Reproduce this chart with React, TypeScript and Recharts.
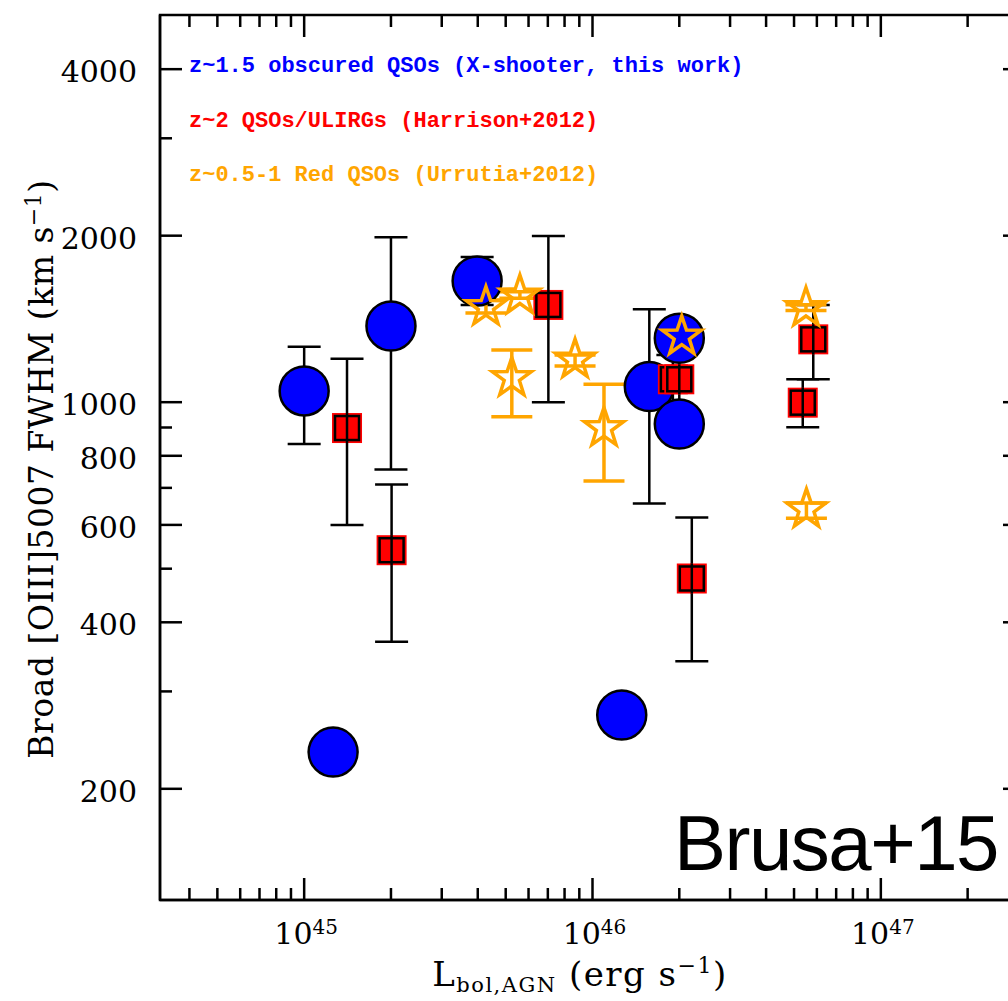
import { ScatterChart, Scatter, XAxis, YAxis, ErrorBar, ReferenceArea } from 'recharts';

// L_bol (erg/s) and broad [OIII] FWHM (km/s)
const xshooterLum = [1.0e45, 1.26e45, 2.0e45, 3.98e45, 1.263e46, 1.574e46, 2.0e46, 2.0e46];
const xshooterFwhm = [1048, 233, 1373, 1656, 272, 1067, 1305, 913];
const xshooterHigh = [1260, null, 1987, 1830, null, 1472, null, null];
const xshooterLow = [840, null, 756, 1499, null, 656, null, null];

const harrisonLum = [1.408e45, 2.01e45, 7.03e45, 1.9e46, 2.0e46, 2.21e46, 5.36e46, 5.83e46];
const harrisonFwhm = [898, 540, 1499, 1100, 1100, 480, 998, 1299];
const harrisonHigh = [1198, 710, 1997, 1217, 1217, 619, 1100, 1499];
const harrisonLow = [600, 369, 1000, 922, 980, 340, 901, 1100];

const urrutiaLum = [4.27e45, 5.6e45, 5.25e45, 8.7e45, 1.096e46, 2.04e46, 5.5e46, 5.52e46];
const urrutiaFwhm = [1486, 1559, 1106, 1194, 898, 1314, 1480, 640];
const urrutiaHigh = [1530, 1584, 1243, 1217, 1078, 1330, 1500, 657];
const urrutiaLow = [1450, 1541, 941, 1163, 720, 1280, 1465, 617];

const xTicks = [
  4e44, 5e44, 6e44, 7e44, 8e44, 9e44, 1e45,
  2e45, 3e45, 4e45, 5e45, 6e45, 7e45, 8e45, 9e45, 1e46,
  2e46, 3e46, 4e46, 5e46, 6e46, 7e46, 8e46, 9e46, 1e47,
  2e47, 3e47,
];
const yTicks = [200, 300, 400, 500, 600, 700, 800, 900, 1000, 2000, 3000, 4000];
const yLabelled = [200, 400, 600, 800, 1000, 2000, 4000];

const legendLabels = [
  'z~1.5 obscured QSOs (X-shooter, this work)',
  'z~2 QSOs/ULIRGs (Harrison+2012)',
  'z~0.5-1 Red QSOs (Urrutia+2012)',
];

const X_MIN = Math.pow(10, 44.5);
const X_MAX = Math.pow(10, 47.5);
const Y_MIN = Math.pow(10, 2.1);
const Y_MAX = Math.pow(10, 3.7);

const BLUE = '#0000ff';
const RED = '#ff0000';
const ORANGE = '#ffa500';

const WIDTH = 1060;
const HEIGHT = 1001;
const PLOT_LEFT = 160;
const PLOT_TOP = 15;
const PLOT_RIGHT = 1025;
const PLOT_BOTTOM = 900;
const Y_AXIS_W = 80;

const SERIF = '"DejaVu Serif", serif';

const toRows = (lum: number[], fwhm: number[], hi: (number | null)[], lo: (number | null)[]) =>
  lum.map((x, i) => ({
    x,
    y: fwhm[i],
    err: hi[i] == null || lo[i] == null ? null : [fwhm[i] - (lo[i] as number), (hi[i] as number) - fwhm[i]],
  }));

const xshooterData = toRows(xshooterLum, xshooterFwhm, xshooterHigh, xshooterLow);
const harrisonData = toRows(harrisonLum, harrisonFwhm, harrisonHigh, harrisonLow);
const urrutiaData = toRows(urrutiaLum, urrutiaFwhm, urrutiaHigh, urrutiaLow);

const isDecade = (v: number) => Math.abs(Math.log10(v) - Math.round(Math.log10(v))) < 1e-6;

const BottomTick = (props: any) => {
  const { x, y, payload } = props;
  const major = isDecade(payload.value);
  const len = major ? 22 : 12;
  return (
    <g>
      <line x1={x} y1={y} x2={x} y2={y - len} stroke="#000" strokeWidth={2.5} />
      <line x1={x} y1={PLOT_TOP} x2={x} y2={PLOT_TOP + len} stroke="#000" strokeWidth={2.5} />
      {major && (
        <text x={x + 2} y={y + 44} textAnchor="middle" fontFamily={SERIF} fontSize={30} fill="#000">
          10
          <tspan dy={-10} fontSize={20}>
            {Math.round(Math.log10(payload.value))}
          </tspan>
        </text>
      )}
    </g>
  );
};

const LeftTick = (props: any) => {
  const { y, payload } = props;
  const x = PLOT_LEFT;
  const major = yLabelled.includes(payload.value);
  const len = major ? 22 : 12;
  return (
    <g>
      <line x1={x} y1={y} x2={x + len} y2={y} stroke="#000" strokeWidth={2.5} />
      <line x1={PLOT_RIGHT} y1={y} x2={PLOT_RIGHT - len} y2={y} stroke="#000" strokeWidth={2.5} />
      {major && (
        <text x={x - 23} y={y + 13} textAnchor="end" fontFamily={SERIF} fontSize={30} fill="#000">
          {payload.value}
        </text>
      )}
    </g>
  );
};

const Circle = (props: any) => (
  <circle cx={props.cx} cy={props.cy} r={24.5} fill={BLUE} stroke="#000" strokeWidth={2.5} />
);

const Square = (props: any) => {
  const { cx, cy } = props;
  return (
    <g>
      <rect x={cx - 15} y={cy - 15} width={30} height={30} fill={RED} />
      <rect x={cx - 12} y={cy - 12} width={24} height={24} fill="none" stroke="#000" strokeWidth={2.5} />
      <line x1={cx} y1={cy - 15} x2={cx} y2={cy + 15} stroke="#000" strokeWidth={2.5} />
    </g>
  );
};

const Star = (props: any) => {
  const { cx, cy } = props;
  const pts: string[] = [];
  for (let i = 0; i < 10; i++) {
    const a = -Math.PI / 2 + (i * Math.PI) / 5;
    const rad = i % 2 === 0 ? 20.5 : 8;
    pts.push(`${cx + rad * Math.cos(a)},${cy + rad * Math.sin(a)}`);
  }
  return <polygon points={pts.join(' ')} fill="none" stroke={ORANGE} strokeWidth={3.5} />;
};

export default function App() {
  const legendColors = [BLUE, RED, ORANGE];
  return (
    <div style={{ position: 'absolute', left: 0, top: 0, width: 1008, height: 1001, overflow: 'hidden', background: '#fff' }}>
      <ScatterChart
        width={WIDTH}
        height={HEIGHT}
        margin={{ top: PLOT_TOP, right: WIDTH - PLOT_RIGHT, bottom: HEIGHT - PLOT_BOTTOM - 1, left: PLOT_LEFT - Y_AXIS_W }}
      >
        <XAxis
          type="number"
          dataKey="x"
          scale="log"
          domain={[X_MIN, X_MAX]}
          allowDataOverflow
          ticks={xTicks}
          interval={0}
          tickSize={0}
          tickMargin={0}
          tickLine={false}
          height={1}
          axisLine={{ stroke: '#000', strokeWidth: 2.5 }}
          tick={BottomTick}
        />
        <YAxis
          type="number"
          dataKey="y"
          scale="log"
          domain={[Y_MIN, Y_MAX]}
          allowDataOverflow
          ticks={yTicks}
          interval={0}
          tickSize={0}
          tickMargin={0}
          tickLine={false}
          width={Y_AXIS_W}
          axisLine={{ stroke: '#000', strokeWidth: 2.5 }}
          tick={LeftTick}
        />
        <ReferenceArea x1={X_MIN} x2={X_MAX} y1={Y_MIN} y2={Y_MAX} fill="none" stroke="#000" strokeWidth={2.5} />
        <Scatter data={xshooterData} shape={Circle} isAnimationActive={false}>
          <ErrorBar dataKey="err" direction="y" width={16.5} stroke="#000" strokeWidth={2.5} />
        </Scatter>
        <Scatter data={harrisonData} shape={Square} isAnimationActive={false}>
          <ErrorBar dataKey="err" direction="y" width={16.5} stroke="#000" strokeWidth={2.5} />
        </Scatter>
        <Scatter data={urrutiaData} shape={Star} isAnimationActive={false}>
          <ErrorBar dataKey="err" direction="y" width={20.5} stroke={ORANGE} strokeWidth={3.5} />
        </Scatter>
      </ScatterChart>

      <svg width={1008} height={1001} style={{ position: 'absolute', left: 0, top: 0, pointerEvents: 'none' }}>
        {legendLabels.map((t, i) => (
          <text
            key={t}
            x={189}
            y={72 + i * 54.5}
            fill={legendColors[i]}
            fontFamily='"Liberation Mono", monospace'
            fontWeight="bold"
            fontSize={22}
          >
            {t}
          </text>
        ))}
        <text x={998} y={870} textAnchor="end" fontFamily='"Liberation Sans", Arial, sans-serif' fontSize={78} letterSpacing={-1.5} fill="#000">
          Brusa+15
        </text>
        <text x={580} y={986} textAnchor="middle" fontFamily={SERIF} fontSize={34} letterSpacing={1.5} fill="#000">
          L<tspan dy={6} fontSize={21}>bol,AGN</tspan>
          <tspan dy={-6}> (erg s</tspan>
          <tspan dy={-13} fontSize={22}>−1</tspan>
          <tspan dy={13}>)</tspan>
        </text>
        <text transform="translate(53,469) rotate(-90)" textAnchor="middle" fontFamily={SERIF} fontSize={33} letterSpacing={0.5} fill="#000">
          Broad [OIII]5007 FWHM (km s<tspan dy={-12} fontSize={22}>−1</tspan>
          <tspan dy={12}>)</tspan>
        </text>
      </svg>
    </div>
  );
}
